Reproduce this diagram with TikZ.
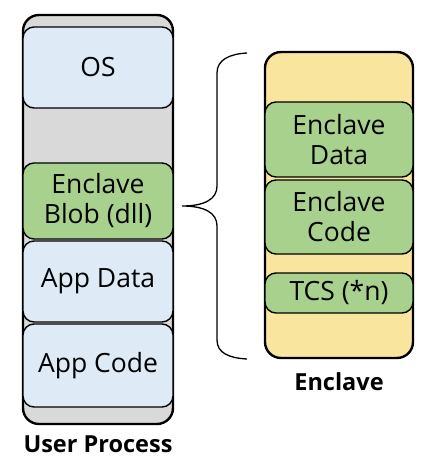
\documentclass[tikz,border=0pt]{standalone}
\usepackage{fontspec}
\setmainfont{Open Sans}
\usetikzlibrary{positioning}
\definecolor{procgray}{HTML}{D9D9D9}
\definecolor{seg}{HTML}{DEEAF6}
\definecolor{encgreen}{HTML}{A9D18E}
\definecolor{encyellow}{HTML}{F9E59D}
\tikzset{outer/.style={draw, line width=2.4pt, rounded corners=16pt, minimum width=150pt, inner sep=0pt}}
\tikzset{part/.style={draw, line width=1.4pt, rounded corners=11pt, minimum width=150pt, inner sep=0pt, align=center, font=\fontsize{26.5}{30}\selectfont}}
\tikzset{title/.style={font=\fontsize{23.5}{27}\selectfont\bfseries}}

\begin{document}
\begin{tikzpicture}[x=1pt,y=-1pt]
\useasboundingbox (0,0) rectangle (435,470);

\node[outer, fill=procgray, minimum height=409pt] (proc) at (98, 219.5) {};
\node[part, fill=seg, minimum height=81pt] (os) at (98, 67.5) {OS};
\node[part, fill=encgreen, minimum height=76pt] (blob) at (98, 201) {Enclave\\Blob (dll)};
\node[part, fill=seg, minimum height=81pt] (adata) at (98, 281.5) {App Data};
\node[part, fill=seg, minimum height=83pt] (acode) at (98, 365.5) {App Code};
\node[title] (proclbl) at (98, 444) {User Process};

\node[outer, fill=encyellow, minimum width=148pt, minimum height=306pt] (encl) at (339, 205) {};
\node[part, fill=encgreen, minimum width=148pt, minimum height=75pt] (edata) at (339, 139.5) {Enclave\\Data};
\node[part, fill=encgreen, minimum width=148pt, minimum height=74pt] (ecode) at (339, 217) {Enclave\\Code};
\node[part, fill=encgreen, minimum width=148pt, minimum height=40pt] (tcs) at (339, 293) {TCS (*n)};
\node[title] (encllbl) at (339, 382) {Enclave};

% brace
\coordinate (btop) at (247, 53);
\coordinate (btip) at (182, 206);
\coordinate (bbot) at (247, 359);
\draw[line width=1.3pt] (btop) .. controls (229,54) and (217,60) .. (217,73)
  -- (217,186) .. controls (217,199) and (205,206) .. (btip)
  .. controls (205,206) and (217,213) .. (217,226)
  -- (217,340) .. controls (217,353) and (229,358) .. (bbot);
\end{tikzpicture}
\end{document}
